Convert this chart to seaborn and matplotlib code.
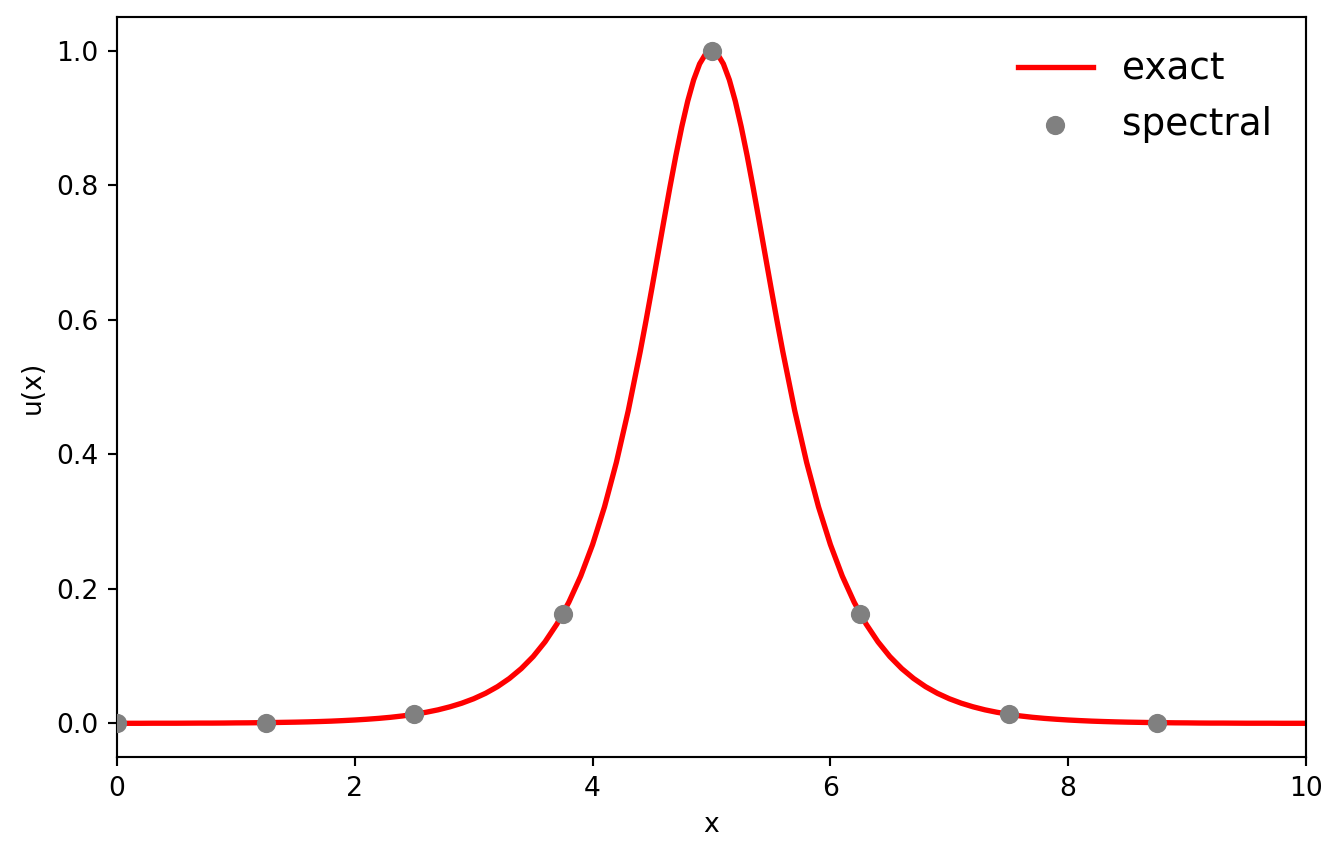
import pandas as pd
import matplotlib
matplotlib.use("Agg")
import matplotlib.pyplot as plt
import seaborn as sns

# exact curve: distance from the peak at x = 5 and the height there
half_d = [0.0, 0.05, 0.1, 0.15, 0.2, 0.25, 0.3, 0.35, 0.4, 0.45, 0.5, 0.55, 0.6,
          0.7, 0.8, 0.9, 1.0, 1.1, 1.2, 1.3, 1.4, 1.5, 1.6, 1.7, 1.8, 1.9,
          2.0, 2.1, 2.2, 2.3, 2.4, 2.5, 2.6, 2.7, 2.8, 2.9, 3.0, 3.1, 3.2, 3.3, 3.4,
          3.5, 3.6, 3.7, 3.8, 3.9, 4.0, 4.1, 4.2, 4.3, 4.4, 4.5, 4.6, 4.7, 4.8, 4.9, 5.0]
half_vals = [1.0000, 0.9950, 0.9803, 0.9566, 0.9250, 0.8868, 0.8436, 0.7967, 0.7477, 0.6978,
             0.6481, 0.5993, 0.5523,
             0.4649, 0.3880, 0.3218, 0.2658, 0.2189, 0.1800, 0.1477, 0.1212, 0.0993, 0.0814,
             0.0667, 0.0546, 0.0447, 0.0366, 0.0300, 0.0246, 0.0201, 0.0165, 0.0135, 0.0110,
             0.0090, 0.0074, 0.0061, 0.0050, 0.0041, 0.0033, 0.0027, 0.0022, 0.0018, 0.0015,
             0.0012, 0.0010, 0.0008, 0.0007, 0.0005, 0.0004, 0.0004, 0.0003, 0.0002, 0.0002,
             0.0002, 0.0001, 0.0001, 0.0001]
exact_x = [5 - d for d in half_d[::-1]] + [5 + d for d in half_d[1:]]
exact_u = half_vals[::-1] + half_vals[1:]

# spectral points
spec_x = [0.0, 1.25, 2.5, 3.75, 5.0, 6.25, 7.5, 8.75]
spec_u = [0.0001, 0.0011, 0.0135, 0.1631, 1.0, 0.1631, 0.0135, 0.0011]

exact_df = pd.DataFrame({"x": exact_x, "u": exact_u})
spec_df = pd.DataFrame({"x": spec_x, "u": spec_u})

fig = plt.figure(figsize=(1343 / 192, 858 / 192), dpi=192)
ax = fig.add_axes([117 / 1343, 101 / 858, 1189 / 1343, 740 / 858])

sns.lineplot(data=exact_df, x="x", y="u", color="red", linewidth=2, label="exact", ax=ax)
sns.scatterplot(data=spec_df, x="x", y="u", color="gray", s=52, linewidth=0,
                label="spectral", ax=ax, zorder=3)

ax.set_xlim(0, 10)
ax.set_ylim(-0.05, 1.05)
ax.set_xlabel("x")
ax.set_ylabel("u(x)")
ax.legend(loc="upper right", frameon=False, fontsize=14)

fig.savefig("out.png", dpi=192)
